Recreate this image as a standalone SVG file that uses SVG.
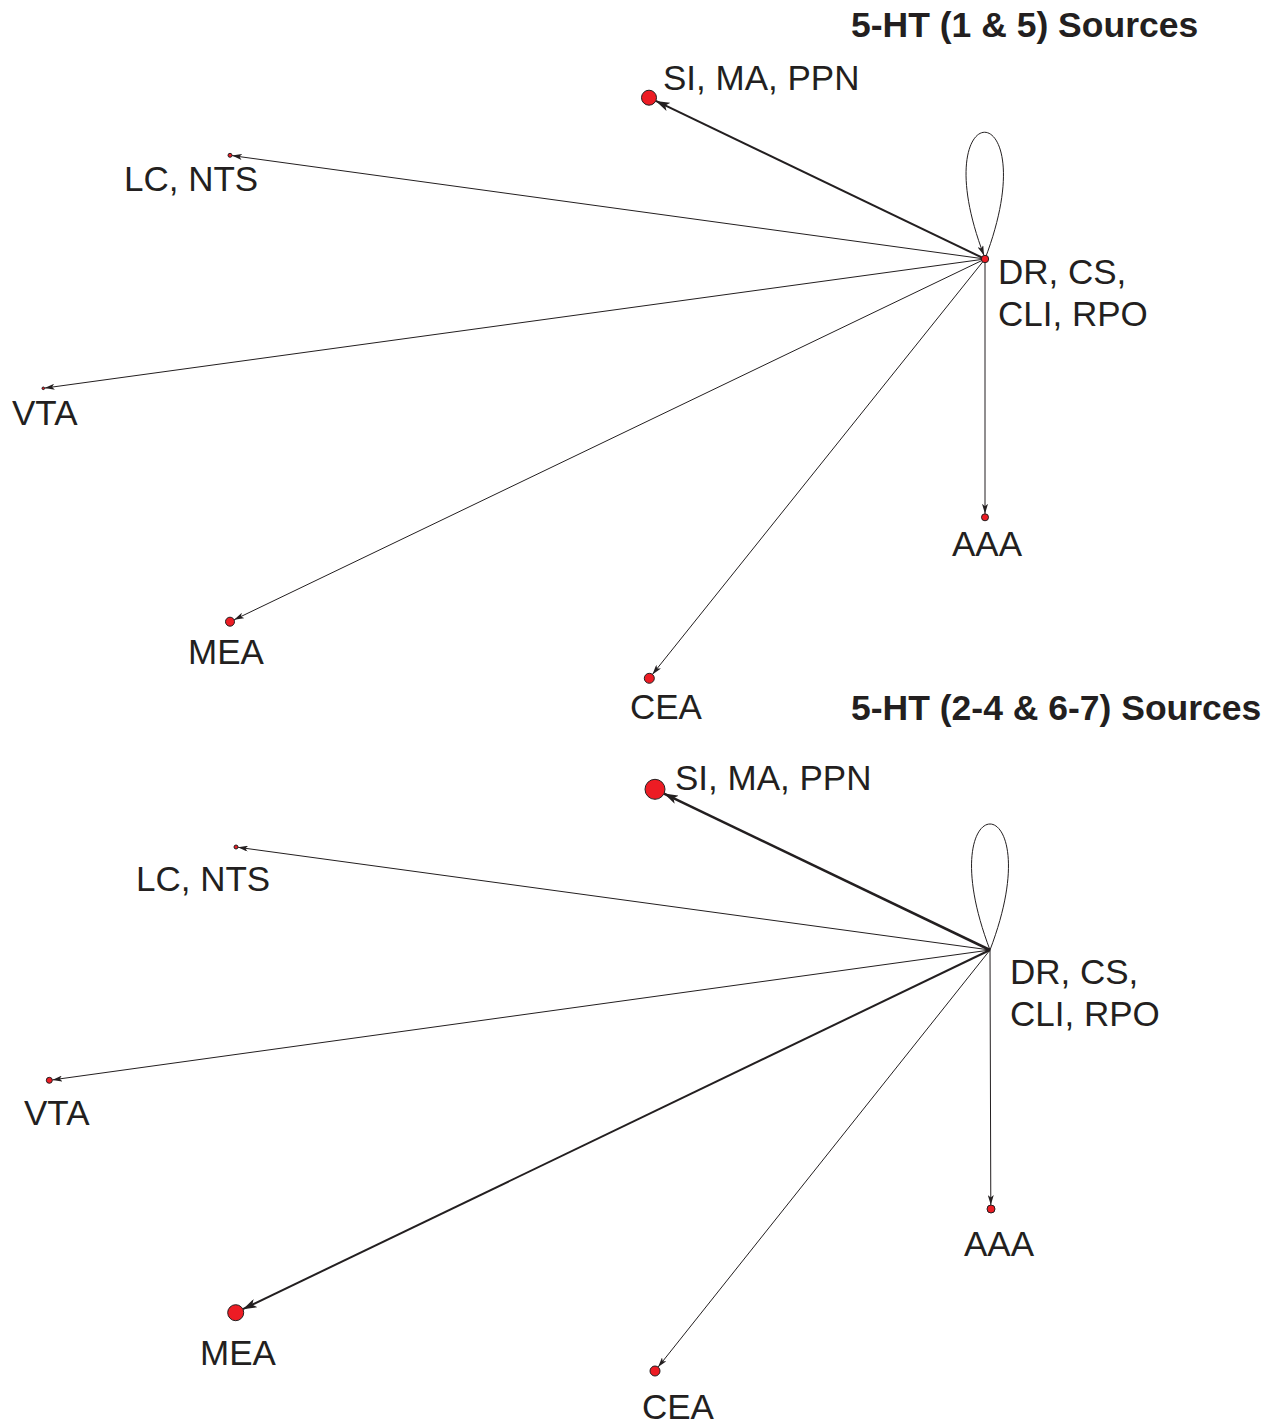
<svg xmlns="http://www.w3.org/2000/svg" width="1273" height="1427" viewBox="0 0 1273 1427">
  <style>
    .lbl { font-family: "Liberation Sans", Arial, sans-serif; font-size: 35px; fill: #231f20; }
    .ttl { font-family: "Liberation Sans", Arial, sans-serif; font-size: 35.5px; font-weight: bold; fill: #231f20; }
    .node { fill: #ed1c24; stroke: #231f20; stroke-width: 1; }
    .edge { fill: none; stroke: #231f20; stroke-width: 1; }
    .e2 { stroke-width: 2; }
    .e25 { stroke-width: 2.5; }
  </style>
  <defs>
    <marker id="arr" markerUnits="userSpaceOnUse" viewBox="0 0 10 6" refX="10" refY="3" markerWidth="10" markerHeight="6" orient="auto">
      <path d="M0,0 L10,3 L0,6 L2.5,3 z" fill="#231f20"/>
    </marker>
    <marker id="arrL" markerUnits="userSpaceOnUse" viewBox="0 0 14 9" refX="14" refY="4.5" markerWidth="14" markerHeight="9" orient="auto">
      <path d="M0,0 L14,4.5 L0,9 L3.5,4.5 z" fill="#231f20"/>
    </marker>
  </defs>

  <rect width="1273" height="1427" fill="#ffffff"/>

  <!-- Upper network: 5-HT (1 & 5) -->
  <text class="ttl" x="851" y="37">5-HT (1 &amp; 5) Sources</text>
  <g id="top-edges">
    <path class="edge e2" d="M985,259 L655.8,100.9" marker-end="url(#arrL)"/>
    <path class="edge" d="M985,259 L232,155.6" marker-end="url(#arr)"/>
    <path class="edge" d="M985,259 L44.6,388.1" marker-end="url(#arr)"/>
    <path class="edge" d="M985,259 L234.1,619.8" marker-end="url(#arr)"/>
    <path class="edge" d="M985,259 L652.4,674.4" marker-end="url(#arr)"/>
    <path class="edge" d="M985,259 L985,513.8" marker-end="url(#arr)"/>
    <path class="edge" d="M985,259 C1049,90.6 921,90.6 984,255.5" marker-end="url(#arr)"/>
  </g>
  <g id="top-SI"><circle class="node" cx="649" cy="97.7" r="7.5"/><text class="lbl" x="663" y="90">SI, MA, PPN</text></g>
  <g id="top-LC"><circle class="node" cx="230" cy="155.3" r="2"/><text class="lbl" x="124" y="191">LC, NTS</text></g>
  <g id="top-VTA"><circle class="node" cx="43.3" cy="388.3" r="1.3"/><text class="lbl" x="12" y="425">VTA</text></g>
  <g id="top-MEA"><circle class="node" cx="230" cy="621.7" r="4.5"/><text class="lbl" x="188" y="664">MEA</text></g>
  <g id="top-CEA"><circle class="node" cx="649.3" cy="678.3" r="5"/><text class="lbl" x="630" y="719">CEA</text></g>
  <g id="top-AAA"><circle class="node" cx="985" cy="517.3" r="3.5"/><text class="lbl" x="952" y="556">AAA</text></g>
  <g id="top-DR"><circle class="node" cx="985" cy="259" r="3.7"/><text class="lbl" x="998" y="284">DR, CS,</text><text class="lbl" x="998" y="326">CLI, RPO</text></g>

  <!-- Lower network: 5-HT (2-4 & 6-7) -->
  <text class="ttl" x="851" y="720">5-HT (2-4 &amp; 6-7) Sources</text>
  <g id="bot-edges">
    <path class="edge e25" d="M990,950 L664,793.6" marker-end="url(#arrL)"/>
    <path class="edge" d="M990,950 L238,847.3" marker-end="url(#arr)"/>
    <path class="edge" d="M990,950 L52.3,1079.9" marker-end="url(#arr)"/>
    <path class="edge e2" d="M990,950 L242.9,1309.2" marker-end="url(#arrL)"/>
    <path class="edge" d="M990,950 L658.1,1367.1" marker-end="url(#arr)"/>
    <path class="edge" d="M990,950 L990.8,1205" marker-end="url(#arr)"/>
    <path class="edge" d="M990,950 C1054,782 926,782 990,950"/>
  </g>
  <g id="bot-SI"><circle class="node" cx="655" cy="789.3" r="10"/><text class="lbl" x="675" y="790">SI, MA, PPN</text></g>
  <g id="bot-LC"><circle class="node" cx="236" cy="847" r="2"/><text class="lbl" x="136" y="891">LC, NTS</text></g>
  <g id="bot-VTA"><circle class="node" cx="49.3" cy="1080.3" r="3"/><text class="lbl" x="24" y="1125">VTA</text></g>
  <g id="bot-MEA"><circle class="node" cx="235.7" cy="1312.7" r="8"/><text class="lbl" x="200" y="1365">MEA</text></g>
  <g id="bot-CEA"><circle class="node" cx="655" cy="1371" r="5"/><text class="lbl" x="642" y="1419">CEA</text></g>
  <g id="bot-AAA"><circle class="node" cx="991" cy="1209" r="4"/><text class="lbl" x="964" y="1256">AAA</text></g>
  <g id="bot-DR"><text class="lbl" x="1010" y="984">DR, CS,</text><text class="lbl" x="1010" y="1026">CLI, RPO</text></g>
</svg>
